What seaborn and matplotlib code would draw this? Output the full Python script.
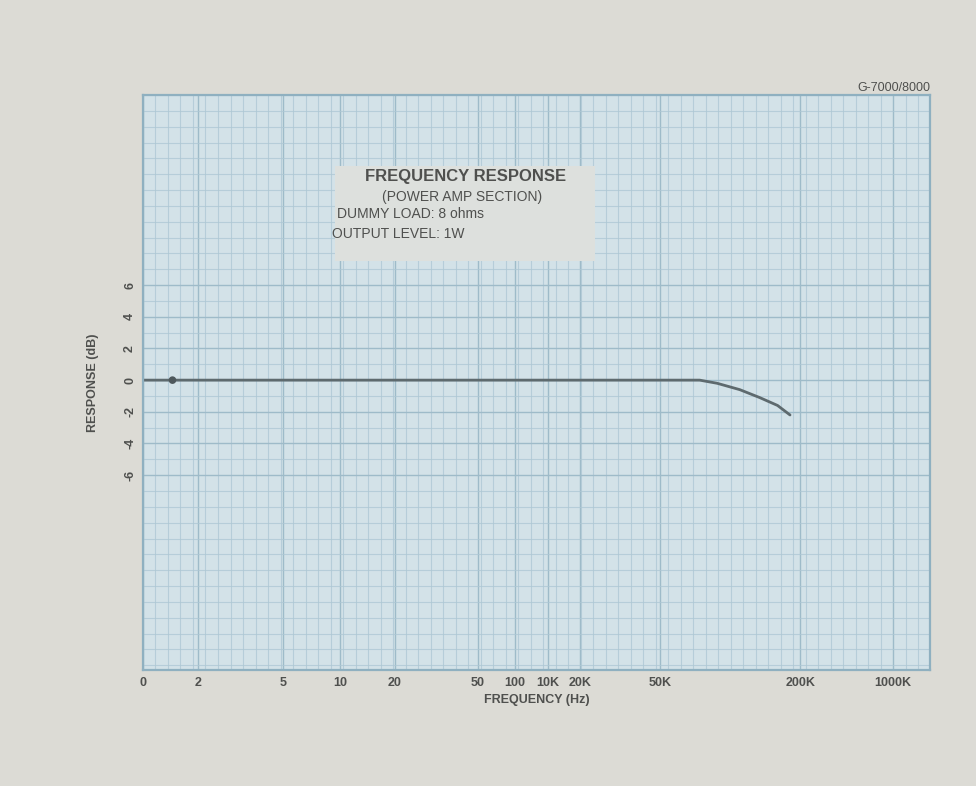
import matplotlib
matplotlib.use("Agg")
import matplotlib.pyplot as plt
import matplotlib.ticker as mticker
from matplotlib.patches import Rectangle
import numpy as np
import pandas as pd
import seaborn as sns

# frequency axis of the printed graph paper: labelled frequencies and where they sit on the paper
TICK_FREQS = [1, 2, 5, 10, 20, 50, 100, 10e3, 20e3, 50e3, 200e3, 1000e3]
TICK_LABELS = ["0", "2", "5", "10", "20", "50", "100", "10K", "20K", "50K", "200K", "1000K"]
PAPER_UNITS = [0, 55, 140, 197, 252, 335, 372, 405, 437, 517, 657, 750]
PAPER_END = 787

Y_TICKS = [6, 4, 2, 0, -2, -4, -6]
Y_LABELS = ["6", "4", "2", "0", "-2", "-4", "-6"]

# measured response curve
FREQ_HZ = [1, 1.5, 10, 100, 10e3, 50e3, 74e3, 88e3, 110e3, 134e3, 160e3, 181e3]
RESPONSE_DB = [0, 0, 0, 0, 0, 0, 0, -0.2, -0.6, -1.1, -1.6, -2.2]
MARKER_FREQ = [1.45]
MARKER_DB = [0]

BG = "#dcdbd5"
PAPER = "#d3e2e8"
GRID = "#adc7d4"
INK = "#4f504e"

LOG_T = np.log10(TICK_FREQS)
SLOPE_HI = (LOG_T[-1] - LOG_T[-2]) / (PAPER_UNITS[-1] - PAPER_UNITS[-2])


def to_paper(f):
    lf = np.log10(np.clip(np.asarray(f, dtype=float), 1e-3, None))
    p = np.interp(lf, LOG_T, PAPER_UNITS)
    return np.where(lf > LOG_T[-1], PAPER_UNITS[-1] + (lf - LOG_T[-1]) / SLOPE_HI, p)


def from_paper(p):
    p = np.asarray(p, dtype=float)
    lf = np.interp(p, PAPER_UNITS, LOG_T)
    lf = np.where(p > PAPER_UNITS[-1], LOG_T[-1] + (p - PAPER_UNITS[-1]) * SLOPE_HI, lf)
    return 10 ** lf


sns.set_style("white")
plt.rcParams["font.family"] = ["Liberation Sans", "DejaVu Sans"]

fig = plt.figure(figsize=(9.76, 7.86), dpi=100, facecolor=BG)
ax = fig.add_axes([0.1465, 0.1476, 0.8065, 0.7315])
ax.set_facecolor(PAPER)
ax.set_xscale("function", functions=(to_paper, from_paper))
ax.set_xlim(1, float(from_paper(PAPER_END)))
ax.set_ylim(-18.3, 18)

# graph paper grid
minor_x = from_paper(np.arange(0, PAPER_END + 1, 12.5))
ax.xaxis.set_minor_locator(mticker.FixedLocator(minor_x))
ax.yaxis.set_minor_locator(mticker.MultipleLocator(1))
ax.grid(which="minor", color=GRID, linewidth=0.8, alpha=0.75)
ax.grid(which="major", color="#9ebbc9", linewidth=1.0)
ax.set_axisbelow(True)

ax.set_xticks(TICK_FREQS)
ax.set_xticklabels(TICK_LABELS, fontsize=9, color=INK, fontweight="bold")
ax.set_yticks(Y_TICKS)
ax.set_yticklabels(Y_LABELS, fontsize=9, color=INK, rotation=90, va="center", fontweight="bold")
ax.tick_params(axis="both", which="both", length=0)
ax.tick_params(axis="x", pad=5)
ax.tick_params(axis="y", pad=5)

for side in ax.spines.values():
    side.set_color("#8fb0c0")
    side.set_linewidth(1.6)

curve = pd.DataFrame({"freq": FREQ_HZ, "db": RESPONSE_DB})
sns.lineplot(data=curve, x="freq", y="db", ax=ax, color="#5e6a6e", linewidth=2.0)
sns.scatterplot(x=MARKER_FREQ, y=MARKER_DB, ax=ax, color="#4e585c", s=30, edgecolor="none", zorder=5)

ax.set_xlabel("FREQUENCY (Hz)", fontsize=9, color=INK, fontweight="bold", labelpad=4)
ax.set_ylabel("RESPONSE (dB)", fontsize=9, color=INK, fontweight="bold", labelpad=18)

# caption block printed on the paper
ax.add_patch(Rectangle((0.244, 0.712), 0.33, 0.165, transform=ax.transAxes,
                       facecolor="#dde0dd", edgecolor="none", zorder=2))
ax.text(0.41, 0.858, "FREQUENCY RESPONSE", transform=ax.transAxes, ha="center", va="center",
        fontsize=12, fontweight="bold", color=INK, zorder=3)
ax.text(0.405, 0.823, "(POWER AMP SECTION)", transform=ax.transAxes, ha="center", va="center",
        fontsize=10, color=INK, zorder=3)
ax.text(0.247, 0.793, "DUMMY LOAD: 8 ohms", transform=ax.transAxes, ha="left", va="center",
        fontsize=10, color=INK, zorder=3)
ax.text(0.24, 0.758, "OUTPUT LEVEL: 1W", transform=ax.transAxes, ha="left", va="center",
        fontsize=10, color=INK, zorder=3)

fig.text(0.953, 0.888, "G-7000/8000", ha="right", va="center", fontsize=9, color=INK)

fig.savefig("out.png", dpi=100, facecolor=BG)
